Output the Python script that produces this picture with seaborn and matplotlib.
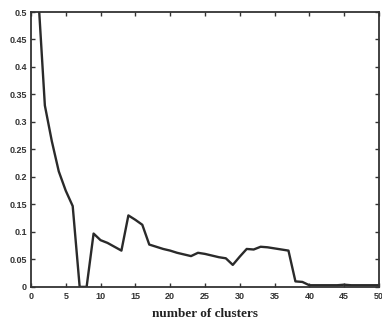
import numpy as np
import pandas as pd
import seaborn as sns
import matplotlib
matplotlib.use("Agg")
import matplotlib.pyplot as plt

clusters = list(range(1, 51))
values = [0.54, 0.33, 0.265, 0.21, 0.175, 0.147, 0.0, 0.0, 0.097, 0.085,
          0.08, 0.073, 0.066, 0.13, 0.122, 0.113, 0.077, 0.073, 0.069, 0.066,
          0.062, 0.059, 0.056, 0.062, 0.06, 0.057, 0.054, 0.052, 0.04, 0.055,
          0.069, 0.068, 0.073, 0.072, 0.07, 0.068, 0.066, 0.01, 0.009, 0.003,
          0.003, 0.003, 0.003, 0.003, 0.004, 0.003, 0.003, 0.003, 0.003, 0.003]
xticks = list(range(0, 51, 5))
yticks = [0, 0.05, 0.1, 0.15, 0.2, 0.25, 0.3, 0.35, 0.4, 0.45, 0.5]
yticklabels = ["0", "0.05", "0.1", "0.15", "0.2", "0.25", "0.3", "0.35", "0.4", "0.45", "0.5"]

df = pd.DataFrame({"clusters": clusters, "value": values})

sns.set_style("ticks")
fig = plt.figure(figsize=(3.82, 3.29), dpi=100)
ax = fig.add_axes([0.081, 0.128, 0.911, 0.8355])
sns.lineplot(x="clusters", y="value", data=df, ax=ax, color="#2a2a2a", linewidth=1.7)

ax.set_xlim(0, 50)
ax.set_ylim(0, 0.5)
ax.set_xticks(xticks)
ax.set_yticks(yticks)
ax.set_yticklabels(yticklabels)
for lab in ax.get_xticklabels() + ax.get_yticklabels():
    lab.set_fontfamily("Liberation Sans")
    lab.set_fontweight("bold")
    lab.set_fontsize(6.5)
    lab.set_color("#333333")
ax.tick_params(direction="in", length=3, width=1, top=True, right=True, pad=3, colors="#333333")
ax.tick_params(axis="x", pad=4)
for s in ax.spines.values():
    s.set_linewidth(1.3)
    s.set_color("#333333")
ax.set_ylabel("")
ax.set_xlabel("number of clusters", fontfamily="Liberation Serif", fontweight="bold",
              fontsize=9.5, color="#222222", labelpad=5)

fig.savefig("out.png", dpi=100)
plt.close()
